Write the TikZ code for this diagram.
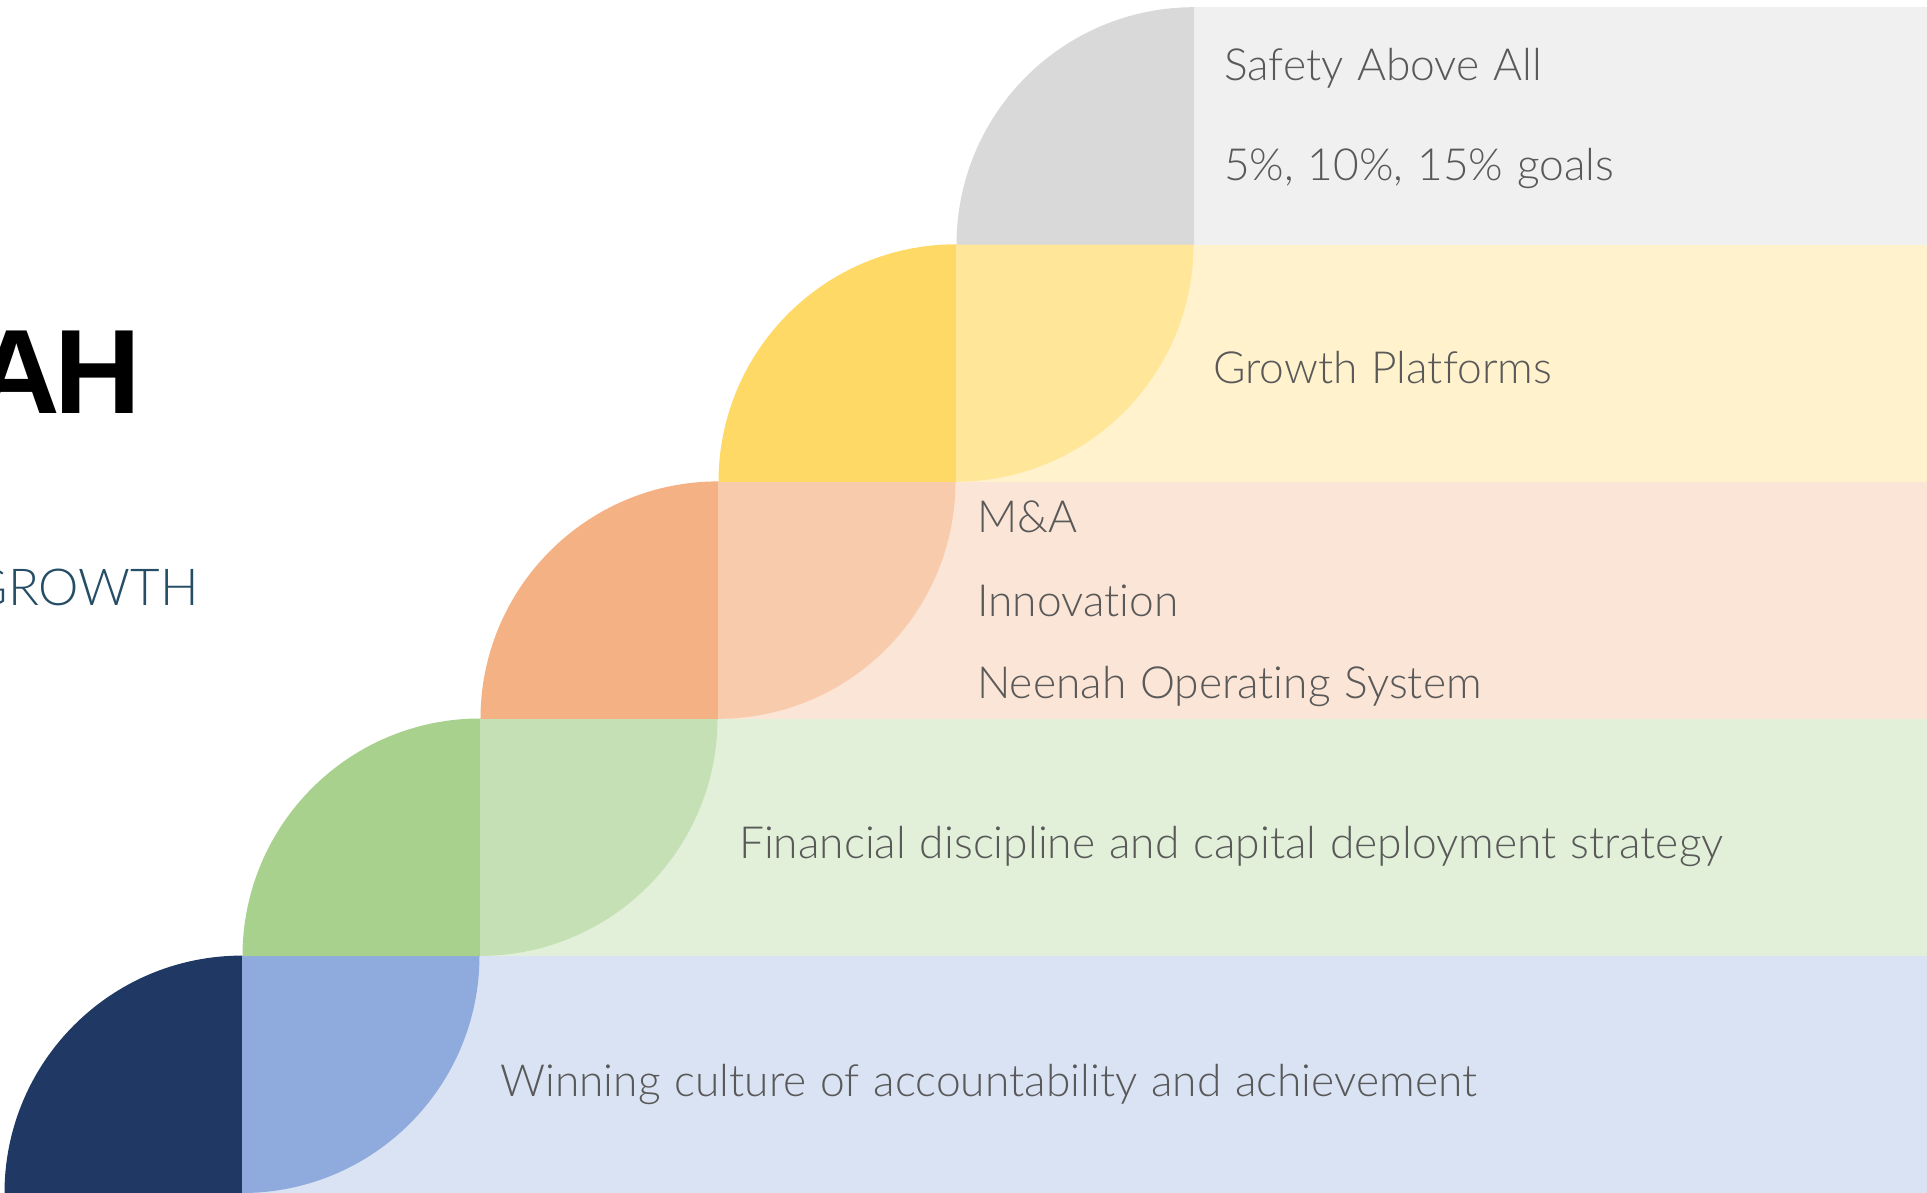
\documentclass[tikz,border=0pt]{standalone}
\usepackage{fontspec}
\setmainfont{Lato}[UprightFont={* Light},Ligatures=NoCommon,WordSpace=1.15]
\newfontfamily\titlefont{Liberation Sans}
\definecolor{bluedk}{HTML}{203864}
\definecolor{bluelt}{HTML}{8FAADC}
\definecolor{bluebd}{HTML}{DAE3F3}
\definecolor{greendk}{HTML}{A9D18E}
\definecolor{greenlt}{HTML}{C5E0B4}
\definecolor{greenbd}{HTML}{E2F0D9}
\definecolor{orangedk}{HTML}{F4B183}
\definecolor{orangelt}{HTML}{F8CBAD}
\definecolor{orangebd}{HTML}{FBE5D6}
\definecolor{yellowdk}{HTML}{FFD966}
\definecolor{yellowlt}{HTML}{FFE699}
\definecolor{yellowbd}{HTML}{FFF2CC}
\definecolor{graydk}{HTML}{D9D9D9}
\definecolor{graybd}{HTML}{F0F0F0}
\definecolor{txt}{HTML}{595959}
\definecolor{teal}{HTML}{264D66}
\begin{document}
\begin{tikzpicture}[x=1pt,y=-1pt,
  lbl/.style={anchor=base west,inner sep=0pt,text=txt,font=\fontsize{44.3}{52}\selectfont}]
\useasboundingbox (0,0) rectangle (1927,1193);
\clip (0,0) rectangle (1927,1193);
\def\R{237.5}
\foreach \k/\dk/\lt/\bd in {0/bluedk/bluelt/bluebd,1/greendk/greenlt/greenbd,2/orangedk/orangelt/orangebd,3/yellowdk/yellowlt/yellowbd,4/graydk/graybd/graybd}{
  \pgfmathsetmacro\V{242+238*\k}
  \pgfmathsetmacro\T{955.5-237.1*\k}
  \pgfmathsetmacro\B{\T+237.6}
  \fill[\bd] (\V,\T) rectangle (1930,\B);
  \fill[\dk] (\V,\B) -- ++(-\R,0) arc[start angle=180,end angle=270,radius=\R] -- cycle;
  \ifnum\k<4
    \fill[\lt] (\V,\T) -- ++(\R,0) arc[start angle=0,end angle=90,radius=\R] -- cycle;
  \fi
}
\node[anchor=base east,inner sep=0pt,font=\titlefont\bfseries\fontsize{120}{130}\selectfont] (title) at (141,413) {A\kern-6pt H};
\node[anchor=base east,inner sep=0pt,text=teal,font=\fontsize{51}{60}\selectfont] (sub) at (199,605) {GROWTH};
\node[lbl] (s1) at (1224,81) {Safety Above All};
\node[lbl] (s2) at (1224,181) {5\%, 10\%, 15\% goals};
\node[lbl] (g1) at (1213,383) {Growth Platforms};
\node[lbl] (m1) at (977,532) {M\&A};
\node[lbl] (m2) at (977,616) {Innovation};
\node[lbl] (m3) at (977,698) {Neenah Operating System};
\node[lbl] (f1) at (739,858) {Financial discipline and capital deployment strategy};
\node[lbl] (w1) at (500,1096) {Winning culture of accountability and achievement};
\end{tikzpicture}
\end{document}
